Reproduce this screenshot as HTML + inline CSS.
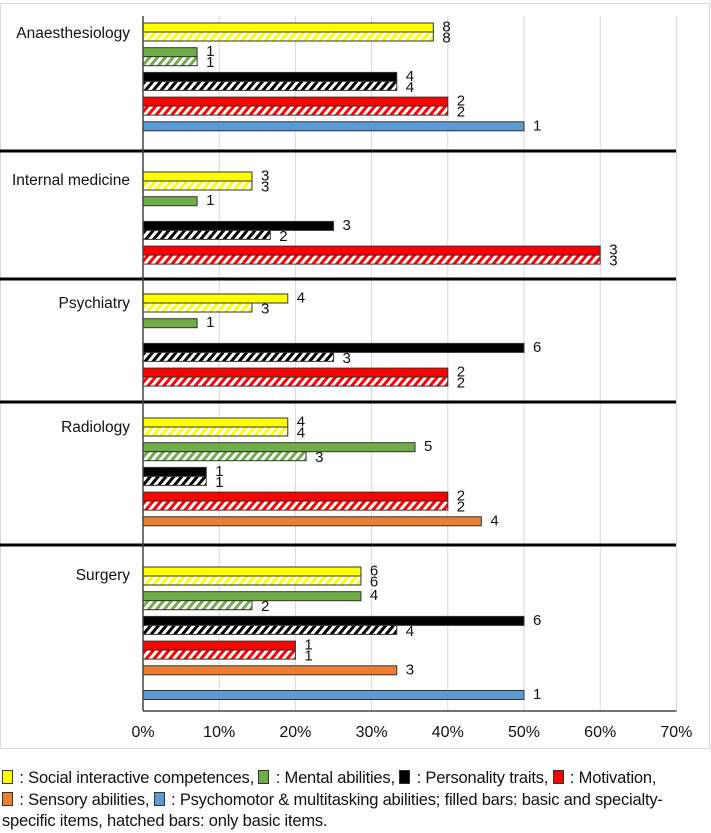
<!DOCTYPE html>
<html><head><meta charset="utf-8">
<style>
body{margin:0;background:#fff;width:711px;height:828px;overflow:hidden;font-family:"Liberation Sans",Arial,sans-serif}
svg{display:block}
.leg{position:absolute;left:2px;top:768px;font-size:16.5px;line-height:21.5px;color:#111;width:706px;letter-spacing:-0.2px}
.sw{display:inline-block;width:9px;height:12px;border:1px solid #333;vertical-align:-1px;margin-right:2px}
</style></head><body>
<svg id="chart" width="711" height="828">
<defs>
<pattern id="h-yellow" width="6" height="6" patternUnits="userSpaceOnUse" patternTransform="rotate(40)"><rect width="6" height="6" fill="#fff"/><rect width="3" height="6" fill="#ffff00"/></pattern>
<pattern id="h-green" width="6" height="6" patternUnits="userSpaceOnUse" patternTransform="rotate(40)"><rect width="6" height="6" fill="#fff"/><rect width="3" height="6" fill="#70ad47"/></pattern>
<pattern id="h-black" width="6" height="6" patternUnits="userSpaceOnUse" patternTransform="rotate(40)"><rect width="6" height="6" fill="#fff"/><rect width="3" height="6" fill="#000"/></pattern>
<pattern id="h-red" width="6" height="6" patternUnits="userSpaceOnUse" patternTransform="rotate(40)"><rect width="6" height="6" fill="#fff"/><rect width="3" height="6" fill="#ff0000"/></pattern>
</defs>
<rect x="0.5" y="3.5" width="709" height="745" fill="#fff" stroke="#d9d9d9"/>
<g id="grid"></g><g id="bars"></g><g id="labels"></g><g id="axes"></g>
</svg>
<div class="leg"><span class="sw" style="background:#ffff00"></span> : Social interactive competences, <span class="sw" style="background:#70ad47"></span> : Mental abilities, <span class="sw" style="background:#000"></span> : Personality traits, <span class="sw" style="background:#ff0000"></span> : Motivation,<br><span class="sw" style="background:#ed7d31"></span> : Sensory abilities, <span class="sw" style="background:#5b9bd5"></span> : Psychomotor &amp; multitasking abilities; filled bars: basic and specialty-<br>specific items, hatched bars: only basic items.</div>
<script>
const specialties = ["Anaesthesiology","Internal medicine","Psychiatry","Radiology","Surgery"];
const groupStartY = [23,172,294,418,567];
const labelY = [33,180,303,427,575];
const separators = [151,279,402,545];
const xTicks = [0,10,20,30,40,50,60,70];
const categories = ["social","mental","personality","motivation","sensory","psychomotor"];
const colors = ["#ffff00","#70ad47","#000000","#ff0000","#ed7d31","#5b9bd5"];
const hatchIds = ["h-yellow","h-green","h-black","h-red",null,null];
// [specialty][category] percentages (null = absent)
const filledPct = [
 [38.1,7.1,33.3,40,null,50],
 [14.3,7.1,25,60,null,null],
 [19,7.1,50,40,null,null],
 [19,35.7,8.3,40,44.4,null],
 [28.6,28.6,50,20,33.3,50]];
const filledN = [[8,1,4,2,null,1],[3,1,3,3,null,null],[4,1,6,2,null,null],[4,5,1,2,4,null],[6,4,6,1,3,1]];
const hatchPct = [
 [38.1,7.1,33.3,40,null,null],
 [14.3,null,16.7,60,null,null],
 [14.3,null,25,40,null,null],
 [19,21.4,8.3,40,null,null],
 [28.6,14.3,33.3,20,null,null]];
const hatchN = [[8,1,4,2,null,null],[3,null,2,3,null,null],[3,null,3,2,null,null],[4,3,1,2,null,null],[6,2,4,1,null,null]];
// slot index for each category within group
const slotIdx = [[0,1,2,3,4,4],[0,1,2,3,4,5],[0,1,2,3,4,5],[0,1,2,3,4,5],[0,1,2,3,4,5]];

const X0=143, PX=7.62, TOP=16, BOT=711, PITCH=24.7, BH=9;
const xs = v => X0 + v*PX;
const NS="http://www.w3.org/2000/svg";
function mk(tag,attrs,parent){const e=document.createElementNS(NS,tag);for(const k in attrs)e.setAttribute(k,attrs[k]);parent.appendChild(e);return e;}
const grid=document.getElementById('grid'),bars=document.getElementById('bars'),labels=document.getElementById('labels'),axes=document.getElementById('axes');
xTicks.forEach(t=>{
  if(t>0){const l=mk('line',{x1:xs(t),x2:xs(t),y1:TOP,y2:BOT,stroke:'#d9d9d9','stroke-width':1},grid);
  
  }
  const tx=mk('text',{x:xs(t),y:737,'text-anchor':'middle','font-size':16,fill:'#111'},axes);
  tx.textContent=t+'%';
  
  
});
specialties.forEach((sp,i)=>{
  const lab=mk('text',{x:130,y:labelY[i]+5,'text-anchor':'end','font-size':15.5,fill:'#111'},labels);
  lab.textContent=sp;
  
  
  categories.forEach((c,j)=>{
    const y0=groupStartY[i]+slotIdx[i][j]*PITCH;
    const f=filledPct[i][j], h=hatchPct[i][j];
    if(f!=null){
      const r=mk('rect',{x:X0,y:y0,width:xs(f)-X0,height:BH,fill:colors[j],stroke:'#333','stroke-width':1},bars);
      
      
      const t=mk('text',{x:xs(f)+9,y:y0+BH/2+4,'font-size':15,fill:'#111'},labels);
      t.textContent=filledN[i][j];
      
      
    }
    if(h!=null){
      const y1=y0+BH;
      const r=mk('rect',{x:X0,y:y1,width:xs(h)-X0,height:BH,fill:'url(#'+hatchIds[j]+')',stroke:'#333','stroke-width':1},bars);
      
      
      const t=mk('text',{x:xs(h)+9,y:y1+BH/2+6,'font-size':15,fill:'#111'},labels);
      t.textContent=hatchN[i][j];
      
      
    }
  });
});
separators.forEach(y=>{
  const l=mk('line',{x1:0,x2:676,y1:y,y2:y,stroke:'#000','stroke-width':3},axes);
  
  
});
const ya=mk('line',{x1:X0,x2:X0,y1:TOP,y2:BOT,stroke:'#444','stroke-width':1.5},axes);


const xa=mk('line',{x1:X0,x2:xs(70),y1:BOT,y2:BOT,stroke:'#444','stroke-width':1.5},axes);


</script>
</body></html>
